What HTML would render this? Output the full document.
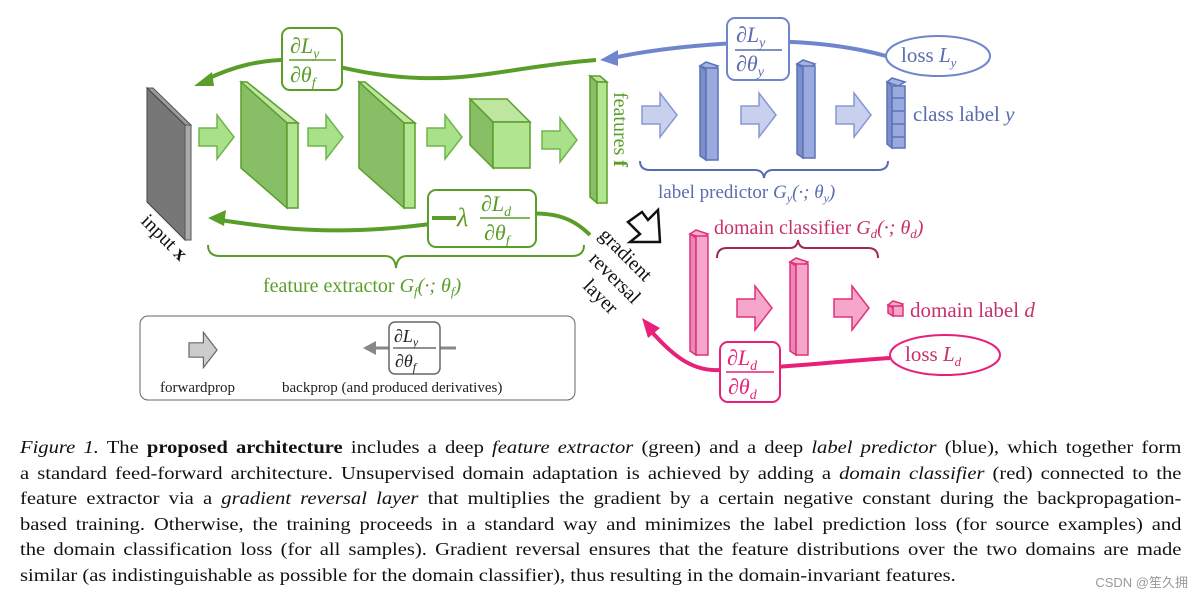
<!DOCTYPE html>
<html><head><meta charset="utf-8"><style>
body{margin:0;background:#fff;width:1200px;height:601px;overflow:hidden;position:relative;font-family:"Liberation Serif",serif}
svg{position:absolute;left:0;top:0}
.cap{position:absolute;left:20px;width:1037px;top:435px;font-size:18.4px;line-height:25.6px;text-align:justify;text-align-last:justify;color:#111;transform:scaleX(1.12);transform-origin:0 0}
.cap p{margin:0;white-space:nowrap}
.wm{position:absolute;right:12px;bottom:10px;font:13px "Liberation Sans","Noto Sans CJK SC",sans-serif;color:#999}
</style></head><body>
<svg width="1200" height="430" viewBox="0 0 1200 430" font-family="Liberation Serif, serif">
<defs>
<g id="ga"><polygon points="0,-9 18,-9 18,-22 35,0 18,22 18,9 0,9" /></g>
</defs>
<polygon points="147,88 153,88 191,125 185,125" fill="#999" stroke="#555"/>
<polygon points="147,88 185,125 185,240 147,202" fill="#777" stroke="#444"/>
<polygon points="185,125 191,125 191,240 185,240" fill="#aaa" stroke="#555"/>
<g stroke="#5a9e2a" stroke-width="1.5">
<polygon points="241,82 247,82 298,123 287,123" fill="#bfe6a0"/>
<polygon points="241,82 287,123 287,208 241,168" fill="#88be66"/>
<polygon points="287,123 298,123 298,208 287,208" fill="#b2e590"/>
<polygon points="359,82 365,82 415,123 404,123" fill="#bfe6a0"/>
<polygon points="359,82 404,123 404,208 359,168" fill="#88be66"/>
<polygon points="404,123 415,123 415,208 404,208" fill="#b2e590"/>
<polygon points="470,99 507,99 530,122 493,122" fill="#bfe6a0"/>
<polygon points="470,99 493,122 493,168 470,145" fill="#88be66"/>
<rect x="493" y="122" width="37" height="46" fill="#b2e590"/>
<polygon points="590,76 600,76 607,82 597,82" fill="#bfe6a0"/>
<polygon points="590,76 597,82 597,203 590,197" fill="#88be66"/>
<rect x="597" y="82" width="10" height="121" fill="#b2e590"/>
</g>
<g fill="#a9e08a" stroke="#6fb54a" stroke-width="1.5">
<use href="#ga" x="199" y="137"/><use href="#ga" x="308" y="137"/><use href="#ga" x="427" y="137"/><use href="#ga" x="542" y="140"/>
</g>
<text transform="translate(614,92) rotate(90)" font-size="20" fill="#5a9e2a">features <tspan font-weight="bold">f</tspan></text>
<path d="M596,60 C520,66 480,80 420,78 C360,76 330,62 300,60 C260,58 230,68 205,80" fill="none" stroke="#5a9e2a" stroke-width="4"/>
<polygon points="194,86 212,72 214,86" fill="#5a9e2a"/>
<rect x="282" y="28" width="60" height="62" rx="8" fill="#fff" stroke="#5a9e2a" stroke-width="2"/>
<g fill="#5a9e2a" font-style="italic" font-size="22"><text x="290" y="53">∂L<tspan font-size="14" dy="5">y</tspan></text><text x="290" y="82">∂θ<tspan font-size="14" dy="5">f</tspan></text></g>
<line x1="289" y1="60" x2="336" y2="60" stroke="#5a9e2a" stroke-width="1.5"/>
<path d="M590,235 C570,215 550,212 520,214 C460,218 420,228 360,230 C300,232 260,226 220,220" fill="none" stroke="#5a9e2a" stroke-width="4"/>
<polygon points="208,218 226,210 224,226" fill="#5a9e2a"/>
<rect x="428" y="190" width="108" height="57" rx="8" fill="#fff" stroke="#5a9e2a" stroke-width="2"/>
<g fill="#5a9e2a" font-size="22"><rect x="432" y="216" width="24" height="4"/><text x="457" y="226" font-style="italic" font-size="26">λ</text>
<text x="481" y="211" font-style="italic">∂L<tspan font-size="14" dy="5">d</tspan></text><text x="484" y="240" font-style="italic">∂θ<tspan font-size="14" dy="5">f</tspan></text></g>
<line x1="480" y1="218" x2="530" y2="218" stroke="#5a9e2a" stroke-width="1.5"/>
<path d="M208,245 Q208,256 220,256 L385,256 Q395,256 396,268 Q397,256 407,256 L572,256 Q584,256 584,245" fill="none" stroke="#5a9e2a" stroke-width="2"/>
<text x="263" y="292" font-size="20" fill="#5a9e2a">feature extractor <tspan font-style="italic">G<tspan font-size="13" dy="4">f</tspan><tspan dy="-4">(·; θ</tspan><tspan font-size="13" dy="4">f</tspan><tspan dy="-4">)</tspan></tspan></text>
<text transform="translate(140,222) rotate(45)" font-size="20" fill="#111">input <tspan font-weight="bold">x</tspan></text>
<g font-size="20" fill="#111"><text transform="translate(598,236) rotate(45)">gradient</text><text transform="translate(588,260) rotate(45)">reversal</text><text transform="translate(582,287) rotate(45)">layer</text></g>
<polygon points="628,222 642,212 648,220 658,210 660,242 630,242 640,234" fill="#fff" stroke="#111" stroke-width="2.5"/>
<g stroke="#5a73b8" stroke-width="1.5">
<polygon points="700,66 706,62 718,66 712,70" fill="#a6b4e0"/><polygon points="700,66 706,70 706,160 700,156" fill="#7d8fc8"/><rect x="706" y="68" width="12" height="92" fill="#9aaade"/>
<polygon points="797,64 803,60 815,64 809,68" fill="#a6b4e0"/><polygon points="797,64 803,68 803,158 797,154" fill="#7d8fc8"/><rect x="803" y="66" width="12" height="92" fill="#9aaade"/>
<polygon points="887,82 892,78 905,82 898,86" fill="#a6b4e0"/><polygon points="887,82 892,86 892,148 887,144" fill="#7d8fc8"/>
<rect x="892" y="86" width="13" height="62" fill="#9aaade"/>
<line x1="892" y1="98" x2="905" y2="98"/><line x1="892" y1="111" x2="905" y2="111"/><line x1="892" y1="124" x2="905" y2="124"/><line x1="892" y1="137" x2="905" y2="137"/>
</g>
<g fill="#c8d0ee" stroke="#8898d0" stroke-width="1.5"><use href="#ga" x="642" y="115"/><use href="#ga" x="741" y="115"/><use href="#ga" x="836" y="115"/></g>
<text x="913" y="121" font-size="21" fill="#5a6cb0">class label <tspan font-style="italic">y</tspan></text>
<path d="M640,161 Q640,170 650,170 L755,170 Q763,170 764,178 Q765,170 773,170 L878,170 Q888,170 888,161" fill="none" stroke="#5a6cb0" stroke-width="2"/>
<text x="658" y="198" font-size="19" fill="#5a6cb0">label predictor <tspan font-style="italic">G<tspan font-size="12" dy="4">y</tspan><tspan dy="-4">(·; θ</tspan><tspan font-size="12" dy="4">y</tspan><tspan dy="-4">)</tspan></tspan></text>
<path d="M886,56 C850,46 800,40 760,42 C700,44 650,50 612,58" fill="none" stroke="#6f86cc" stroke-width="4"/>
<polygon points="600,60 618,50 618,66" fill="#6f86cc"/>
<rect x="727" y="18" width="62" height="62" rx="8" fill="#fff" stroke="#6f86cc" stroke-width="2"/>
<g fill="#5a6cb0" font-style="italic" font-size="22"><text x="736" y="42">∂L<tspan font-size="14" dy="5">y</tspan></text><text x="736" y="71">∂θ<tspan font-size="14" dy="5">y</tspan></text></g>
<line x1="735" y1="50" x2="782" y2="50" stroke="#5a6cb0" stroke-width="1.5"/>
<ellipse cx="938" cy="56" rx="52" ry="20" fill="#fff" stroke="#6f86cc" stroke-width="2"/>
<text x="901" y="62" font-size="21" fill="#5a6cb0">loss <tspan font-style="italic">L<tspan font-size="13" dy="5">y</tspan></tspan></text>
<g stroke="#e0307a" stroke-width="1.5">
<polygon points="690,234 696,230 708,234 702,238" fill="#f6b0cf"/><polygon points="690,234 696,238 696,355 690,351" fill="#e888b4"/><rect x="696" y="236" width="12" height="119" fill="#f5a6ca"/>
<polygon points="790,262 796,258 808,262 802,266" fill="#f6b0cf"/><polygon points="790,262 796,266 796,355 790,351" fill="#e888b4"/><rect x="796" y="264" width="12" height="91" fill="#f5a6ca"/>
<polygon points="888,305 893,301 903,304 898,308" fill="#f6b0cf"/><rect x="893" y="306" width="10" height="10" fill="#f5a6ca"/><polygon points="888,305 893,308 893,316 888,313" fill="#e888b4"/>
</g>
<g fill="#f5a6ca" stroke="#e0307a" stroke-width="1.5"><use href="#ga" x="737" y="308"/><use href="#ga" x="834" y="308"/></g>
<text x="910" y="317" font-size="21" fill="#c8306a">domain label <tspan font-style="italic">d</tspan></text>
<text x="714" y="234" font-size="20" fill="#c8306a">domain classifier <tspan font-style="italic">G<tspan font-size="13" dy="4">d</tspan><tspan dy="-4">(·; θ</tspan><tspan font-size="13" dy="4">d</tspan><tspan dy="-4">)</tspan></tspan></text>
<path d="M717,258 Q717,248 727,248 L790,248 Q797,248 798,240 Q799,248 806,248 L868,248 Q878,248 878,258" fill="none" stroke="#a02858" stroke-width="2"/>
<path d="M890,358 C830,362 780,368 720,370 C690,372 670,352 650,330" fill="none" stroke="#e8207a" stroke-width="4"/>
<polygon points="642,318 660,328 648,338" fill="#e8207a"/>
<rect x="720" y="342" width="60" height="60" rx="8" fill="#fff" stroke="#e8207a" stroke-width="2"/>
<g fill="#e8207a" font-style="italic" font-size="22"><text x="727" y="365">∂L<tspan font-size="14" dy="5">d</tspan></text><text x="728" y="394">∂θ<tspan font-size="14" dy="5">d</tspan></text></g>
<line x1="726" y1="372" x2="774" y2="372" stroke="#e8207a" stroke-width="1.5"/>
<ellipse cx="945" cy="355" rx="55" ry="20" fill="#fff" stroke="#e8207a" stroke-width="2"/>
<text x="905" y="361" font-size="21" fill="#c8306a">loss <tspan font-style="italic">L<tspan font-size="13" dy="5">d</tspan></tspan></text>
<rect x="140" y="316" width="435" height="84" rx="8" fill="#fff" stroke="#666" stroke-width="1"/>
<g fill="#ccc" stroke="#666" stroke-width="1.5" transform="translate(189,350) scale(0.8)"><polygon points="0,-9 18,-9 18,-22 35,0 18,22 18,9 0,9"/></g>
<text x="160" y="392" font-size="15" fill="#222">forwardprop</text>
<line x1="372" y1="348" x2="456" y2="348" stroke="#888" stroke-width="3"/>
<polygon points="363,348 376,341 376,355" fill="#888"/>
<rect x="389" y="322" width="51" height="52" rx="6" fill="#fff" stroke="#666" stroke-width="1.5"/>
<g fill="#222" font-style="italic" font-size="18"><text x="394" y="342">∂L<tspan font-size="12" dy="4">y</tspan></text><text x="395" y="367">∂θ<tspan font-size="12" dy="4">f</tspan></text></g>
<line x1="393" y1="348" x2="436" y2="348" stroke="#222" stroke-width="1"/>
<text x="282" y="392" font-size="15" fill="#222">backprop (and produced derivatives)</text>
</svg>
<div class="cap">
<p><i>Figure 1.</i> The <b>proposed architecture</b> includes a deep <i>feature extractor</i> (green) and a deep <i>label predictor</i> (blue), which together form</p>
<p>a standard feed-forward architecture. Unsupervised domain adaptation is achieved by adding a <i>domain classifier</i> (red) connected to the</p>
<p>feature extractor via a <i>gradient reversal layer</i> that multiplies the gradient by a certain negative constant during the backpropagation-</p>
<p>based training. Otherwise, the training proceeds in a standard way and minimizes the label prediction loss (for source examples) and</p>
<p>the domain classification loss (for all samples). Gradient reversal ensures that the feature distributions over the two domains are made</p>
<p style="text-align-last:left">similar (as indistinguishable as possible for the domain classifier), thus resulting in the domain-invariant features.</p>
</div>
<div class="wm">CSDN @笙久拥</div>
</body></html>
